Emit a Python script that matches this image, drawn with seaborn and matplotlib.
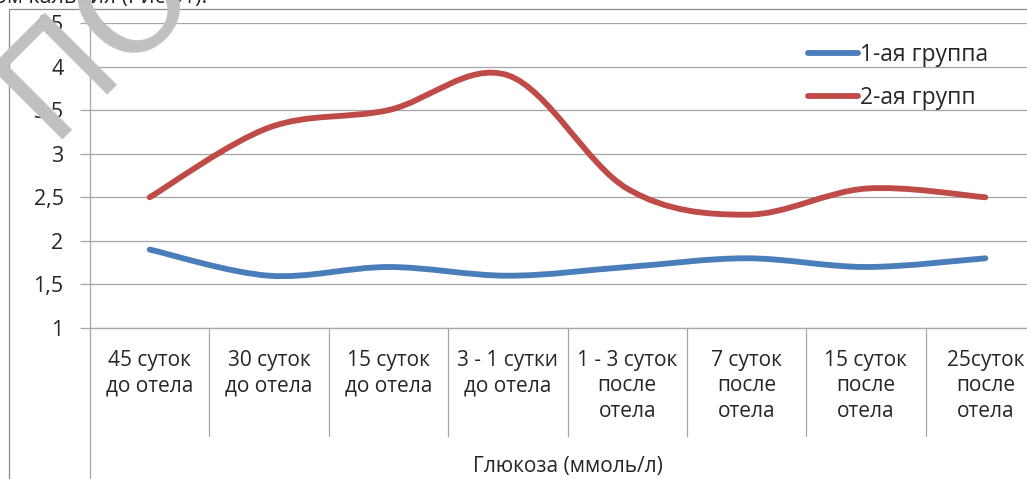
import matplotlib
matplotlib.use('Agg')
import matplotlib.pyplot as plt
import seaborn as sns
from matplotlib.path import Path
from matplotlib.patches import PathPatch
from matplotlib.lines import Line2D

## Data
categories = ['45 суток\nдо отела', '30 суток\nдо отела', '15 суток\nдо отела',
              '3 - 1 сутки\nдо отела', '1 - 3 суток\nпосле\nотела', '7 суток\nпосле\nотела',
              '15 суток\nпосле\nотела', '25суток\nпосле\nотела']
group1 = [1.9, 1.6, 1.7, 1.6, 1.7, 1.8, 1.7, 1.8]
group2 = [2.5, 3.3, 3.5, 3.9, 2.6, 2.3, 2.6, 2.5]
series_names = ['1-ая группа', '2-ая групп']
series_colors = ['#4A7EBB', '#BE4B48']
y_ticks = [1, 1.5, 2, 2.5, 3, 3.5, 4, 4.5]
y_ticklabels = ['1', '1,5', '2', '2,5', '3', '3,5', '4', '4,5']
x_title = 'Глюкоза (ммоль/л)'

sns.set_style('white')
plt.rcParams['font.family'] = ['Open Sans', 'DejaVu Sans']

W, H = 1027, 479
fig = plt.figure(figsize=(W / 100, H / 100), dpi=100)
ax = fig.add_axes([90 / W, 1 - 328 / H, 955 / W, 305 / H])


# Smoothed line like Excel (Catmull-Rom as cubic Bezier)
def smooth_path(xs, ys):
    pts = list(zip(xs, ys))
    n = len(pts)
    verts = [pts[0]]
    codes = [Path.MOVETO]
    for i in range(n - 1):
        p0 = pts[max(i - 1, 0)]
        p1 = pts[i]
        p2 = pts[i + 1]
        p3 = pts[min(i + 2, n - 1)]
        c1 = (p1[0] + (p2[0] - p0[0]) / 6, p1[1] + (p2[1] - p0[1]) / 6)
        c2 = (p2[0] - (p3[0] - p1[0]) / 6, p2[1] - (p3[1] - p1[1]) / 6)
        verts += [c1, c2, p2]
        codes += [Path.CURVE4] * 3
    return Path(verts, codes)


xs = [i + 0.5 for i in range(len(categories))]
for vals, col in zip([group1, group2], series_colors):
    patch = PathPatch(smooth_path(xs, vals), facecolor='none', edgecolor=col,
                      lw=4.2, capstyle='round', joinstyle='round', zorder=3)
    ax.add_patch(patch)

ax.set_xlim(0, 8)
ax.set_ylim(1, 4.5)
ax.set_yticks(y_ticks)
ax.set_yticklabels(y_ticklabels, fontsize=15.5, color='#262626')
ax.set_xticks([])
ax.grid(axis='y', color='#a6a6a6', lw=0.9)
ax.grid(axis='x', visible=False)
for s in ['top', 'right', 'bottom', 'left']:
    ax.spines[s].set_visible(False)
ax.tick_params(axis='y', length=7, width=0.9, color='#a6a6a6', pad=12, left=True)

# y axis line going down to the bottom of the picture
ax.plot([0, 0], [1.1, -0.6], transform=ax.transAxes, color='#a6a6a6', lw=0.9, clip_on=False)
ax.plot([0, 1], [0, 0], transform=ax.transAxes, color='#a6a6a6', lw=0.9, clip_on=False)

# category separators and labels
trans = ax.get_xaxis_transform()
for i in range(1, len(categories)):
    ax.plot([i, i], [0, -0.355], transform=trans, color='#a6a6a6', lw=0.9, clip_on=False)
for i, lab in enumerate(categories):
    ax.text(i + 0.5, -0.072, lab, transform=trans, ha='center', va='top',
            fontsize=15, color='#262626', linespacing=1.27, multialignment='center')

ax.text(0.5, -0.455, x_title, transform=ax.transAxes, ha='center', va='center',
        fontsize=15, color='#262626')

# legend
handles = [Line2D([], [], color=c, lw=4.2) for c in series_colors]
ax.legend(handles, series_names, loc='upper left', bbox_to_anchor=(787 / W, 1 - 22 / H),
          bbox_transform=fig.transFigure, frameon=False, fontsize=16.5,
          handlelength=2.2, handletextpad=0.1, labelspacing=0.85, labelcolor='#262626')

# outer chart border
fig.add_artist(Line2D([9 / W, 9 / W], [1 - 9 / H, 0], transform=fig.transFigure,
                      color='#8c8c8c', lw=0.9))
fig.add_artist(Line2D([9 / W, 1], [1 - 9 / H, 1 - 9 / H], transform=fig.transFigure,
                      color='#8c8c8c', lw=0.9))

# caption cut at top and watermark
fig.text(-6 / W, 1 + 3 / H, 'ом кальция (Рис.31).', fontsize=15.5, color='#262626',
         ha='left', va='center')
fig.text(49 / W, 1 - 140 / H, 'ПО', fontsize=100, color='#c0c0c0', rotation=45,
         family='DejaVu Sans', rotation_mode='anchor', ha='left', va='baseline', zorder=10)

fig.savefig('out.png', dpi=100)
